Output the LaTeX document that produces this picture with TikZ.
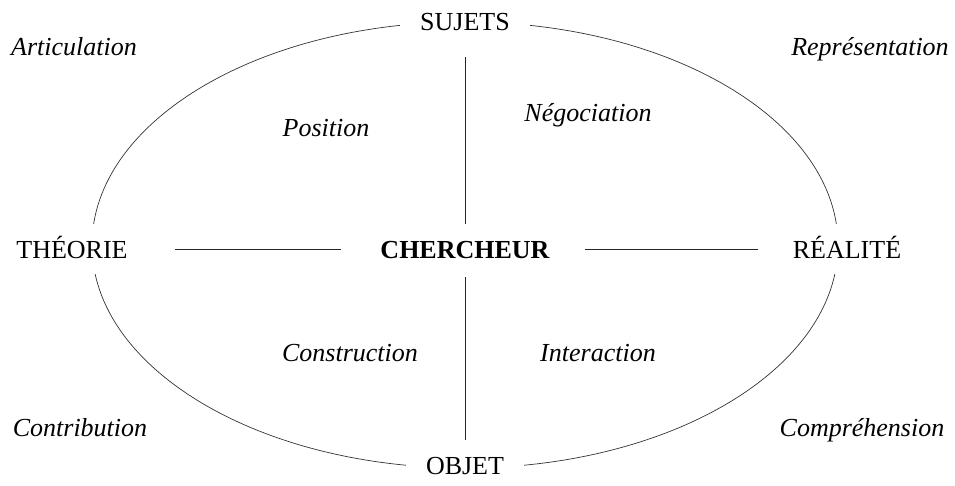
\documentclass[tikz,border=0pt]{standalone}
\usepackage{fontspec}
\setmainfont{Liberation Serif}
\begin{document}
\begin{tikzpicture}[
  x = 1pt, y = -1pt,
  pole/.style = {
    font = \fontsize{26}{30}\selectfont,
    fill = white,
    anchor = base,
    inner xsep = 20pt,
    inner ysep = 16pt,
    text height = 18pt,
    text depth = 0pt,
  },
  note/.style = {
    font = \fontsize{26}{30}\selectfont\itshape,
    anchor = base,
    inner sep = 0pt,
  }
]
  \useasboundingbox (0, 0) rectangle (955, 485);

  \draw[line width = 0.7pt, black!80] (465, 245) ellipse [x radius = 373, y radius = 223];

  \node[pole] (sujets) at (465, 30) {SUJETS};
  \node[pole] (objet) at (465, 474) {OBJET};
  \node[pole] (theorie) at (72, 258) {THÉORIE};
  \node[pole] (realite) at (847, 258) {RÉALITÉ};
  \node[pole, font = \fontsize{26}{30}\selectfont\bfseries] (chercheur) at (465, 258) {CHERCHEUR};

  \node[note] (articulation) at (74, 55) {Articulation};
  \node[note] (representation) at (870, 55) {Représentation};
  \node[note] (contribution) at (80, 436) {Contribution};
  \node[note] (comprehension) at (862, 436) {Compréhension};

  \node[note] (position) at (326, 136) {Position};
  \node[note] (negociation) at (588, 121) {Négociation};
  \node[note] (construction) at (350, 361) {Construction};
  \node[note] (interaction) at (598, 361) {Interaction};

  \begin{scope}[
    every path/.style = { line width = 1pt, black!85 }
  ]
    \draw[shorten < = 11pt] (sujets.south) -- (chercheur.north);
    \draw[shorten < = 3pt] (chercheur.south) -- (objet.north);
    \draw[shorten < = 27pt, shorten > = 19pt] (theorie.east) -- (chercheur.west);
    \draw[shorten < = 15pt, shorten > = 15pt] (chercheur.east) -- (realite.west);
  \end{scope}
\end{tikzpicture}
\end{document}
